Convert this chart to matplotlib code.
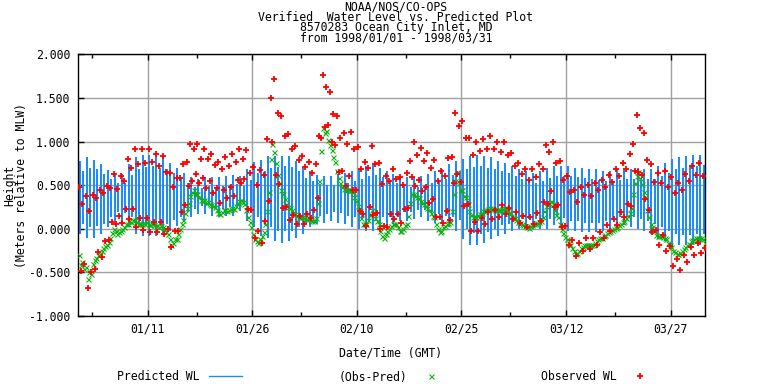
import numpy as np
import pandas as pd
import matplotlib
matplotlib.use("Agg")
import matplotlib.pyplot as plt
import matplotlib.dates as mdates
from matplotlib.lines import Line2D

plt.rcParams['font.family'] = ['DejaVu Sans Mono']
fs = 8.3

#%% data (metres rel. to MLW)
# predicted tide extremes per day: higher high, lower low, lower high, higher low
pred_hh = [0.78, 0.82, 0.79, 0.74, 0.67, 0.63, 0.63, 0.74, 0.82, 0.85,
           0.85, 0.83, 0.82, 0.76, 0.70, 0.64, 0.59, 0.57, 0.59, 0.59,
           0.59, 0.61, 0.62, 0.60, 0.68, 0.77, 0.79, 0.83, 0.84, 0.84,
           0.84, 0.78, 0.70, 0.66, 0.62, 0.61, 0.61, 0.63, 0.64, 0.66,
           0.68, 0.72, 0.74, 0.70, 0.66, 0.63, 0.61, 0.59, 0.59, 0.61,
           0.63, 0.66, 0.68, 0.74, 0.78, 0.80, 0.84, 0.85, 0.83, 0.82,
           0.78, 0.76, 0.72, 0.68, 0.66, 0.64, 0.66, 0.70, 0.72, 0.72,
           0.72, 0.70, 0.70, 0.68, 0.68, 0.66, 0.66, 0.68, 0.68, 0.68,
           0.70, 0.68, 0.68, 0.72, 0.76, 0.80, 0.82, 0.84, 0.85, 0.85]
pred_ll = [-0.06, -0.10, -0.10, -0.06, 0.02, 0.09, 0.07, 0.02, -0.06, -0.08,
           -0.08, -0.08, -0.06, -0.02, 0.03, 0.09, 0.13, 0.17, 0.17, 0.15,
           0.13, 0.15, 0.15, 0.20, 0.09, 0.02, -0.08, -0.10, -0.14, -0.16,
           -0.14, -0.10, -0.06, 0.02, 0.05, 0.07, 0.09, 0.07, 0.05, 0.02,
           0.00, -0.02, -0.02, 0.02, 0.04, 0.05, 0.09, 0.09, 0.11, 0.13,
           0.09, 0.07, 0.05, 0.02, -0.02, -0.12, -0.18, -0.19, -0.16, -0.12,
           -0.08, -0.06, -0.02, 0.00, 0.00, 0.00, 0.00, 0.00, 0.04, 0.02,
           -0.02, -0.02, -0.04, -0.04, -0.04, -0.02, 0.00, 0.02, 0.04, 0.02,
           0.00, -0.02, -0.06, -0.10, -0.14, -0.18, -0.19, -0.19, -0.18, -0.18]
pred_lh = [0.66, 0.70, 0.68, 0.63, 0.57, 0.52, 0.53, 0.62, 0.69, 0.71,
           0.72, 0.70, 0.69, 0.64, 0.58, 0.53, 0.48, 0.47, 0.49, 0.48,
           0.49, 0.50, 0.51, 0.49, 0.56, 0.64, 0.66, 0.70, 0.71, 0.72,
           0.71, 0.66, 0.58, 0.55, 0.51, 0.50, 0.50, 0.52, 0.53, 0.55,
           0.57, 0.60, 0.62, 0.59, 0.55, 0.52, 0.50, 0.48, 0.48, 0.50,
           0.52, 0.55, 0.57, 0.62, 0.66, 0.68, 0.71, 0.72, 0.70, 0.69,
           0.66, 0.64, 0.60, 0.57, 0.55, 0.53, 0.55, 0.58, 0.60, 0.61,
           0.60, 0.59, 0.58, 0.57, 0.56, 0.55, 0.55, 0.56, 0.57, 0.57,
           0.58, 0.57, 0.57, 0.60, 0.64, 0.68, 0.70, 0.72, 0.72, 0.73]
pred_hl = [0.06, 0.02, 0.03, 0.06, 0.13, 0.19, 0.18, 0.13, 0.06, 0.04,
           0.04, 0.05, 0.06, 0.10, 0.14, 0.19, 0.23, 0.26, 0.27, 0.25,
           0.23, 0.25, 0.26, 0.29, 0.19, 0.13, 0.04, 0.02, -0.02, -0.03,
           -0.02, 0.02, 0.06, 0.13, 0.15, 0.17, 0.19, 0.18, 0.15, 0.13,
           0.11, 0.09, 0.09, 0.13, 0.14, 0.15, 0.19, 0.19, 0.21, 0.22,
           0.19, 0.17, 0.15, 0.13, 0.10, 0.00, -0.05, -0.06, -0.04, 0.00,
           0.04, 0.06, 0.09, 0.11, 0.11, 0.11, 0.11, 0.11, 0.14, 0.12,
           0.09, 0.09, 0.07, 0.07, 0.07, 0.09, 0.11, 0.13, 0.14, 0.13,
           0.11, 0.09, 0.06, 0.02, -0.02, -0.06, -0.07, -0.07, -0.06, -0.06]

# observed minus predicted at each tide (4 per day)
resid = [
    [-0.30, -0.42, -0.38, -0.46], [-0.44, -0.58, -0.50, -0.52], [-0.40, -0.36, -0.33, -0.30],
    [-0.29, -0.26, -0.22, -0.20], [-0.18, -0.15, -0.10, -0.05], [0.00, -0.03, -0.06, -0.04],
    [-0.02, 0.00, 0.02, 0.05], [0.06, 0.09, 0.08, 0.10], [0.10, 0.08, 0.05, 0.06],
    [0.06, 0.07, 0.05, 0.08], [0.06, 0.04, 0.05, 0.04], [0.03, 0.04, 0.02, 0.03],
    [0.02, 0.00, -0.04, -0.06], [-0.12, -0.19, -0.16, -0.12], [-0.12, -0.06, 0.00, 0.05],
    [0.10, 0.18, 0.24, 0.30], [0.38, 0.42, 0.44, 0.40], [0.40, 0.36, 0.33, 0.32],
    [0.33, 0.30, 0.31, 0.28], [0.27, 0.26, 0.25, 0.22], [0.18, 0.17, 0.19, 0.21],
    [0.21, 0.20, 0.22, 0.23], [0.24, 0.23, 0.26, 0.30], [0.32, 0.33, 0.31, 0.28],
    [0.22, 0.14, 0.08, 0.02], [-0.06, -0.12, -0.14, -0.16], [-0.12, -0.08, -0.04, 0.05],
    [0.20, 0.42, 0.80, 0.97], [0.88, 0.76, 0.62, 0.53], [0.45, 0.40, 0.34, 0.28],
    [0.25, 0.24, 0.21, 0.18], [0.17, 0.15, 0.13, 0.13], [0.13, 0.12, 0.13, 0.11],
    [0.11, 0.10, 0.09, 0.09], [0.12, 0.30, 0.55, 0.89], [1.15, 1.10, 1.12, 1.02],
    [0.96, 0.90, 0.82, 0.77], [0.66, 0.58, 0.52, 0.48], [0.46, 0.44, 0.44, 0.45],
    [0.45, 0.42, 0.36, 0.32], [0.26, 0.20, 0.12, 0.06], [0.05, 0.05, 0.10, 0.16],
    [0.21, 0.18, 0.12, 0.09], [0.05, -0.02, -0.08, -0.10], [-0.06, -0.02, 0.00, 0.03],
    [0.05, 0.06, 0.05, 0.02], [-0.02, -0.02, 0.00, 0.04], [0.05, 0.15, 0.30, 0.40],
    [0.40, 0.38, 0.37, 0.35], [0.32, 0.30, 0.28, 0.26], [0.24, 0.21, 0.18, 0.15],
    [0.13, 0.06, 0.00, -0.04], [-0.02, 0.02, 0.03, 0.05], [0.07, 0.08, 0.20, 0.40],
    [0.55, 0.65, 0.52, 0.44], [0.44, 0.38, 0.36, 0.28], [0.20, 0.16, 0.14, 0.13],
    [0.14, 0.16, 0.17, 0.18], [0.20, 0.21, 0.22, 0.23], [0.24, 0.23, 0.23, 0.22],
    [0.22, 0.21, 0.22, 0.23], [0.24, 0.23, 0.21, 0.18], [0.15, 0.13, 0.12, 0.10],
    [0.08, 0.07, 0.06, 0.04], [0.03, 0.02, 0.01, 0.03], [0.04, 0.05, 0.06, 0.07],
    [0.08, 0.09, 0.13, 0.20], [0.26, 0.28, 0.30, 0.32], [0.28, 0.21, 0.16, 0.13],
    [0.06, 0.00, -0.05, -0.09], [-0.12, -0.16, -0.18, -0.22], [-0.25, -0.29, -0.28, -0.25],
    [-0.22, -0.21, -0.19, -0.18], [-0.18, -0.19, -0.19, -0.18], [-0.16, -0.14, -0.12, -0.11],
    [-0.10, -0.08, -0.07, -0.05], [-0.04, -0.02, -0.01, 0.00], [0.01, 0.02, 0.04, 0.06],
    [0.08, 0.09, 0.12, 0.15], [0.18, 0.24, 0.40, 0.53], [0.60, 0.65, 0.58, 0.51],
    [0.42, 0.36, 0.22, 0.13], [0.06, 0.02, -0.03, -0.07], [-0.08, -0.08, -0.08, -0.09],
    [-0.10, -0.12, -0.16, -0.18], [-0.21, -0.25, -0.27, -0.29], [-0.29, -0.28, -0.26, -0.23],
    [-0.21, -0.19, -0.17, -0.14], [-0.13, -0.12, -0.10, -0.10], [-0.10, -0.10, -0.12, -0.16],
]

tide_times = pd.date_range("1998-01-01 03:00", periods=4 * len(pred_hh), freq="6h")
major_days = pd.date_range("1998-01-11", periods=6, freq="15D")
minor_days = pd.date_range("1998-01-03", periods=6, freq="15D")
yticks = [-1.0, -0.5, 0.0, 0.5, 1.0, 1.5, 2.0]

pred = np.column_stack([pred_hh, pred_ll, pred_lh, pred_hl]).ravel()
obs_pred = np.array(resid).ravel()
obs = pred + obs_pred

# one stroke per tidal cycle: each high water down to the low that follows it
stroke_t = tide_times[0::2] + pd.Timedelta(hours=3)
stroke_hi = pred[0::2]
stroke_lo = pred[1::2]

#%% plot
blue = "#1a8cff"
red = "#ff0000"
green = "#10b010"

fig = plt.figure(figsize=(7.68, 3.84), dpi=100)
ax = fig.add_axes([0.1016, 0.177, 0.817, 0.6815])

ax.vlines(stroke_t, stroke_lo, stroke_hi, color=blue, lw=1.44, antialiased=False, zorder=2)
ax.plot(tide_times, obs_pred, ls="none", marker="x", ms=3.6, mew=0.8, color=green,
        antialiased=False, zorder=3)
ax.plot(tide_times, obs, ls="none", marker="+", ms=5, mew=1.3, color=red,
        antialiased=False, zorder=4)

ax.set_xlim(pd.Timestamp("1998-01-01"), pd.Timestamp("1998-04-01"))
ax.set_ylim(-1.0, 2.0)
ax.set_yticks(yticks)
ax.yaxis.set_major_formatter(matplotlib.ticker.FormatStrFormatter("%.3f"))
ax.set_xticks(major_days)
ax.set_xticks(minor_days, minor=True)
ax.xaxis.set_major_formatter(mdates.DateFormatter("%m/%d"))

ax.grid(True, which="major", color="#a0a0a0", lw=1.0)
ax.set_axisbelow(True)
for sp in ax.spines.values():
    sp.set_linewidth(1.0)
ax.tick_params(axis="x", which="both", direction="in", top=True, bottom=True,
               labelsize=fs, pad=4.5, length=4, width=1)
ax.tick_params(axis="x", which="minor", length=3)
ax.tick_params(axis="y", direction="in", left=True, right=False,
               labelsize=fs, pad=5.5, length=4, width=1)

# title block
title = ["NOAA/NOS/CO-OPS",
         "Verified  Water Level vs. Predicted Plot",
         "8570283 Ocean City Inlet, MD",
         "from 1998/01/01 - 1998/03/31"]
fig.text(396 / 768, 1 - 22.5 / 384, "\n".join(title), ha="center", va="center",
         fontsize=fs, linespacing=0.72)

fig.text(391 / 768, 1 - 353 / 384, "Date/Time (GMT)", ha="center", va="center", fontsize=fs)
fig.text(10 / 768, 0.518, "Height", rotation=90, ha="center", va="center", fontsize=fs)
fig.text(22 / 768, 0.518, "(Meters relative to MLW)", rotation=90, ha="center", va="center", fontsize=fs)

# legend row
leg_y = 1 - 377 / 384
items = [
    (Line2D([], [], color=blue, lw=1.0), "Predicted WL", 117, 2.9, 0.8),
    (Line2D([], [], ls="none", marker="x", ms=3.6, mew=0.8, color=green), "(Obs-Pred)", 339, 2.0, 1.0),
    (Line2D([], [], ls="none", marker="+", ms=5, mew=1.3, color=red), "Observed WL", 541, 2.0, 1.0),
]
for handle, lab, x0, hl, tp in items:
    fig.legend(handles=[handle], labels=[lab], loc="center left",
               bbox_to_anchor=(x0 / 768, leg_y), frameon=False, markerfirst=False,
               borderpad=0, borderaxespad=0, handlelength=hl, handletextpad=tp,
               fontsize=fs)

fig.savefig("out.png", dpi=100)
